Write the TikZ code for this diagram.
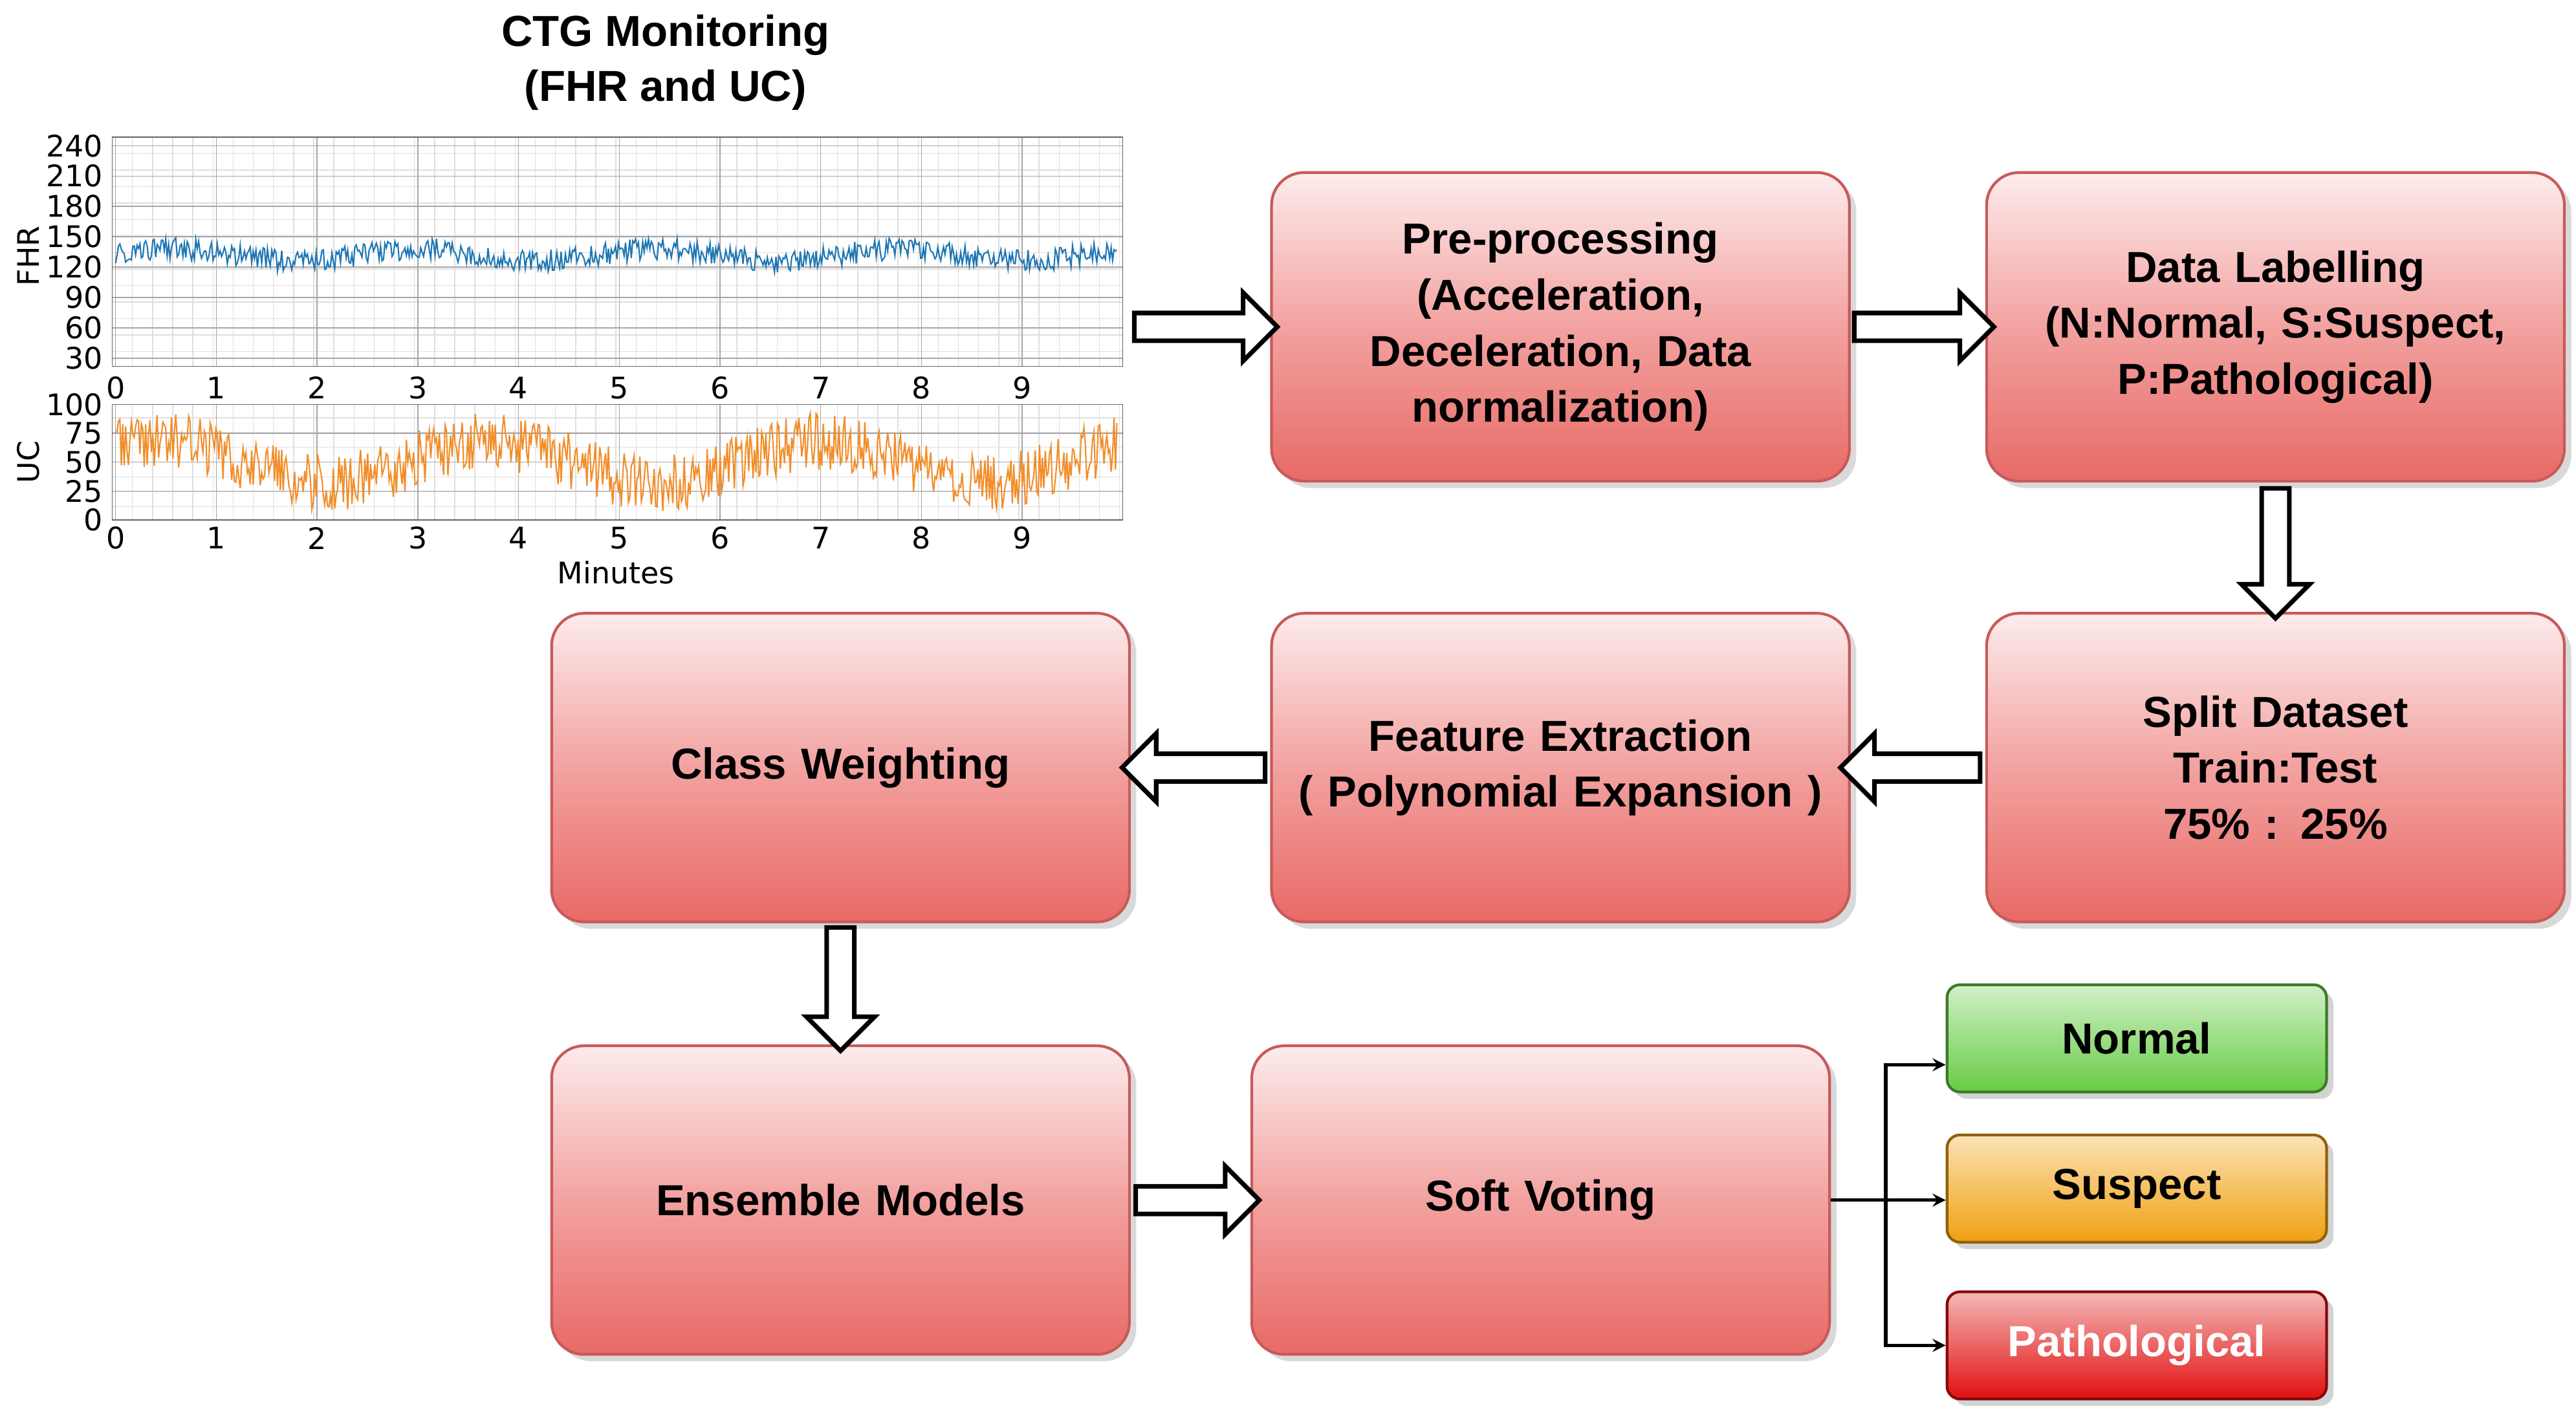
\documentclass[tikz,border=0pt]{standalone}
\usepackage{fontspec}
\setmainfont{Liberation Sans}
\newfontfamily\dv{DejaVu Sans}
\usetikzlibrary{shapes.arrows,shadows}
\definecolor{bx}{HTML}{C85A5A}
\definecolor{fhr}{HTML}{1F77B4}
\definecolor{uc}{HTML}{F28E2B}
\definecolor{pt}{HTML}{FDECEC}
\definecolor{pm}{HTML}{F2A2A0}
\definecolor{pb}{HTML}{E86A66}
\tikzset{
 proc/.style={draw=bx, line width=1.2pt, rounded corners=0.5cm, minimum width=8.89cm, minimum height=4.75cm,
  top color=pt, bottom color=pb, middle color=pm, inner xsep=0pt,
  drop shadow={opacity=0.3,shadow xshift=3pt,shadow yshift=-3pt}, align=center,
  font=\fontsize{19}{24.5}\selectfont\bfseries, text width=8.8cm},
 res/.style={draw=#1!60!black, line width=1.2pt, rounded corners=0.2cm, minimum width=5.84cm, minimum height=1.65cm,
  top color=#1!30!white, bottom color=#1, drop shadow={opacity=0.35,shadow xshift=3pt,shadow yshift=-3pt},
  font=\fontsize{19}{23}\selectfont\bfseries},
 barr/.style={single arrow, draw=black, fill=white, line width=2pt, inner xsep=0pt, inner ysep=0.17cm, minimum width=1.05cm,
  single arrow head extend=0.3cm, minimum height=#1},
 tk/.style={font=\dv\fontsize{13}{14}\selectfont},
}
\definecolor{gn}{HTML}{66CC44}
\definecolor{og}{HTML}{F0A010}
\definecolor{rd}{HTML}{E01010}
\begin{document}
\begin{tikzpicture}[x=0.0254cm,y=-0.0254cm]
\useasboundingbox (0,0) rectangle (1560,857);
% chart
\node[font=\fontsize{19}{24}\selectfont\bfseries, align=center] (title) at (403,38) {CTG Monitoring\\(FHR and UC)};
\foreach \yy in {93,103,...,222} \draw[gray!25, line width=0.4pt] (68,\yy) -- (680,\yy);
\foreach \xx in {68,80.2,...,680} \draw[gray!25, line width=0.4pt] (\xx,83) -- (\xx,222);
\foreach \xx in {68,80.2,...,680} \draw[gray!25, line width=0.4pt] (\xx,245) -- (\xx,315);
\foreach \yy in {253,262,...,315} \draw[gray!25, line width=0.4pt] (68,\yy) -- (680,\yy);
\foreach \m in {0,...,9} {\draw[gray!70] ({70+61*\m},83) -- ({70+61*\m},222); \draw[gray!70] ({70+61*\m},245) -- ({70+61*\m},315);}
\foreach \v in {30,60,...,240} \draw[gray!70] (68,{217-(\v-30)*0.613}) -- (680,{217-(\v-30)*0.613});
\foreach \v in {0,25,50,75,100} \draw[gray!70] (68,{315-\v*0.7}) -- (680,{315-\v*0.7});
\draw[gray!80!black] (68,83) rectangle (680,222);
\draw[gray!80!black] (68,245) rectangle (680,315);
\pgfmathsetseed{7}
\draw[fhr, line width=0.6pt] plot[domain=0:9.95, samples=700] ({70+61*\x},{217-(132+6*sin(\x*150)+22*(rnd-0.5)-30)*0.613});
\draw[uc, line width=0.6pt] plot[domain=0:9.95, samples=700] ({70+61*\x},{315-(50+18*sin(\x*110+40)+50*(rnd-0.5))*0.7});
\foreach \v in {30,60,...,240} \node[tk, anchor=east, inner sep=1pt] (fl\v) at (64,{217-(\v-30)*0.613}) {\v};
\foreach \v in {0,25,50,75,100} \node[tk, anchor=east, inner sep=1pt] (ul\v) at (64,{315-\v*0.7}) {\v};
\foreach \m in {0,...,9} {\node[tk] (xa\m) at ({70+61*\m},235) {\m}; \node[tk] (xb\m) at ({70+61*\m},326) {\m};}
\node[tk, rotate=90] (fy) at (17,155) {FHR};
\node[tk, rotate=90] (uy) at (17,280) {UC};
\node[tk] (mx) at (373,347) {Minutes};
% boxes
\node[proc] (pre) at (945,198) {Pre-processing\\(Acceleration,\\Deceleration, Data\\normalization)};
\node[proc] (lab) at (1378,198) {Data Labelling\\(N:Normal, S:Suspect,\\P:Pathological)};
\node[proc] (spl) at (1378,465) {Split Dataset\\Train:Test\\75\% : 25\%};
\node[proc] (fea) at (945,465) {Feature Extraction\\( Polynomial Expansion )};
\node[proc] (cw) at (509,465) {Class Weighting};
\node[proc] (ens) at (509,727) {Ensemble Models};
\node[proc] (sv) at (933,727) {Soft Voting};
\node[res=gn] (nor) at (1294,629) {Normal};
\node[res=og] (sus) at (1294,720) {Suspect};
\node[res=rd, text=white] (pat) at (1294,815) {Pathological};
% block arrows
\node[barr=2.2cm] (a1) at (726,198) {};
\node[barr=2.15cm] (a2) at (1161,198) {};
\node[barr=2.0cm, rotate=-90] (a3) at (1378,331) {};
\node[barr=2.15cm, rotate=180] (a4) at (1161,465) {};
\node[barr=2.2cm, rotate=180] (a5) at (727,465) {};
\node[barr=1.9cm, rotate=-90] (a6) at (509,595) {};
\node[barr=1.9cm] (a7) at (721,727) {};
% branch
\coordinate (br) at (1142,727);
\draw[line width=1.5pt] (sv.east) -- (br);
\draw[line width=1.5pt,-stealth] (br) |- (nor.west|-0,645);
\draw[line width=1.5pt,-stealth] (br) -- (sus.west|-br);
\draw[line width=1.5pt,-stealth] (br) |- (pat.west);
\end{tikzpicture}
\end{document}
